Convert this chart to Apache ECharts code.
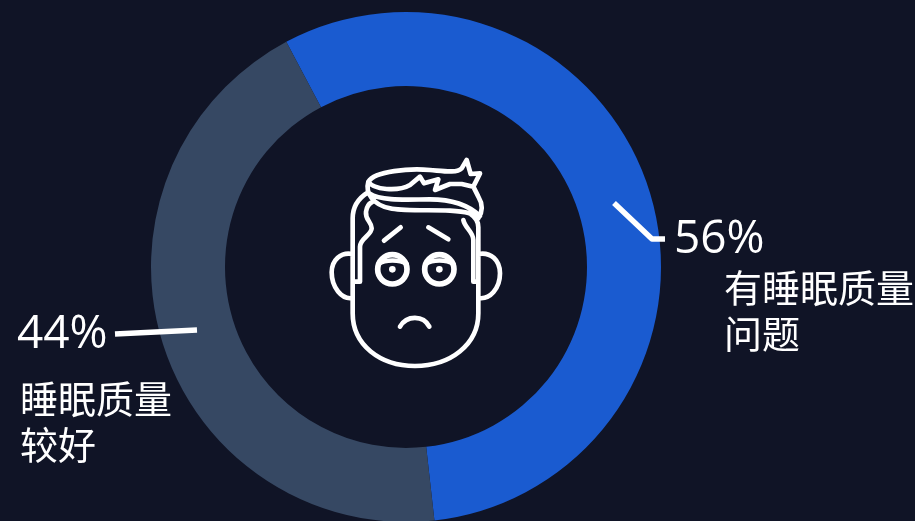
<!DOCTYPE html>
<html><head><meta charset="utf-8">
<style>html,body{margin:0;padding:0;background:#101426}#c{width:915px;height:521px}</style>
<script src="https://cdn.jsdelivr.net/npm/echarts@6/dist/echarts.min.js"></script>
</head><body><div id="c"></div>
<script>
const categories = ['有睡眠质量问题', '睡眠质量较好'];
const percents = [56, 44];
const nameLines = [['有睡眠质量', '问题'], ['睡眠质量', '较好']];
const sliceColors = ['#1a5bd0', '#364863'];
const labelBoxes = [{x: 674, y: 215, indent: 50, pctLine: 50}, {x: 17, y: 294, indent: 3, pctLine: 82}];
const guideLines = [[[614, 203], [652, 239], [665, 239]], [[115, 334], [197, 330]]];

const facePaths = [
  'M128 520V235C128 200 145 175 172 158',
  'M505 520V262C505 248 497 232 482 222',
  'M128 425H150V320C150 295 185 285 185 265C185 245 165 240 168 215C170 200 178 190 188 185',
  'M505 425H490V300C490 275 465 265 460 240',
  'M128 520C128 615 210 678 315 678C420 678 505 615 505 520',
  'M128 342C92 335 65 360 65 397C65 442 95 480 128 474',
  'M505 342C542 335 570 360 570 400C570 445 540 480 505 474',
  'M175 125C195 92 300 85 360 90C400 93 440 100 455 85L470 60L482 102L510 100L490 140L505 170C520 195 518 215 505 235C490 220 470 215 420 212C350 208 280 215 240 205C190 195 165 160 175 125Z',
  'M178 160C215 185 300 178 360 178C420 178 470 190 510 228',
  'M175 125C190 150 265 155 300 135L330 110L342 130L385 118L375 150L420 132L455 132L490 140',
  'M222 302L272 262',
  'M355 262L415 298',
  'M270 560C290 525 340 525 358 560',
  'M205 372C225 358 270 358 290 372',
  'M347 372C367 358 410 358 430 372'
];
const faceEyes = [[247, 388], [388, 388]];

echarts.graphic.registerShape('facePath', echarts.graphic.extendPath(facePaths.join(' ')));
const faceEls = [{
  type: 'facePath',
  style: {fill: null, stroke: '#fff', lineWidth: 14, lineCap: 'round', lineJoin: 'round'}
}];
faceEyes.forEach(e => {
  faceEls.push({type: 'circle', shape: {cx: e[0], cy: e[1], r: 44}, style: {fill: null, stroke: '#fff', lineWidth: 17}});
  faceEls.push({type: 'circle', shape: {cx: e[0], cy: e[1], r: 10}, style: {fill: '#fff'}});
});
const guideEls = guideLines.map(pts => ({
  type: 'polyline', z: 100, shape: {points: pts},
  style: {fill: null, stroke: '#fff', lineWidth: 5.5, lineJoin: 'round'}
}));

const chart = echarts.init(document.getElementById('c'));
const font = '"Noto Sans CJK SC","Noto Sans",sans-serif';
chart.setOption({
  backgroundColor: '#101426',
  animation: false,
  graphic: [{type: 'group', x: 310, y: 140, scaleX: 1 / 3, scaleY: 1 / 3, children: faceEls}].concat(guideEls),
  series: [{
    type: 'pie',
    center: [406, 267],
    radius: [181, 255],
    startAngle: 118,
    clockwise: true,
    silent: true,
    data: categories.map((n, i) => ({
      name: n, value: percents[i], itemStyle: {color: sliceColors[i]},
      label: {
        overflow: 'none',
        formatter: ['{pct|' + percents[i] + '%}'].concat(nameLines[i].map(t => '{name|' + t + '}')).join('\n'),
        rich: {
          pct: {fontFamily: '"Open Sans",sans-serif', fontWeight: 400, fontSize: 46, lineHeight: labelBoxes[i].pctLine, color: '#fff'},
          name: {fontFamily: font, fontWeight: 400, fontSize: 38, lineHeight: 46, color: '#fff', padding: [0, 0, 0, labelBoxes[i].indent]}
        }
      }
    })),
    label: {show: true, position: 'outside', color: '#fff'},
    labelLine: {show: false},
    labelLayout: params => ({
      x: labelBoxes[params.dataIndex].x,
      y: labelBoxes[params.dataIndex].y,
      align: 'left',
      verticalAlign: 'top'
    })
  }]
});
</script></body></html>
